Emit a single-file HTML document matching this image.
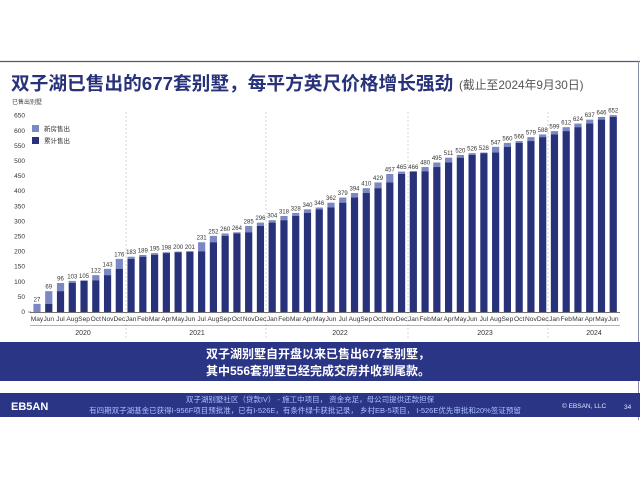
<!DOCTYPE html>
<html><head><meta charset="utf-8"><style>
html,body{margin:0;padding:0;background:#fff;}
body{width:640px;height:480px;overflow:hidden;position:relative;font-family:"Liberation Sans","Noto Sans CJK SC",sans-serif;}
</style></head><body>
<svg id="s" width="640" height="480" xmlns="http://www.w3.org/2000/svg" style="position:absolute;left:0;top:0;font-family:'Liberation Sans','Noto Sans CJK SC',sans-serif">
<rect x="0" y="0" width="640" height="480" fill="#fff"/>
<line x1="0" y1="61.5" x2="640" y2="61.5" stroke="#555a70" stroke-width="1.2"/>
<line x1="638.5" y1="61" x2="638.5" y2="420" stroke="#8a8fa8" stroke-width="1"/>
<text x="11" y="90" font-size="18.7" font-weight="bold" fill="#27327a">双子湖已售出的677套别墅，每平方英尺价格增长强劲</text>
<text x="459" y="89" font-size="11.8" fill="#555">(截止至2024年9月30日)</text>
<text x="12" y="104" font-size="6" fill="#444">已售出别墅</text>
<g id="chart"></g>
<rect x="32" y="125" width="7" height="7" fill="#7c88c4"/>
<text x="44" y="131" font-size="6.5" fill="#333">新房售出</text>
<rect x="32" y="137" width="7" height="7" fill="#27327a"/>
<text x="44" y="143" font-size="6.5" fill="#333">累计售出</text>
<rect x="0" y="342" width="640" height="39" fill="#2b3585"/>
<text x="318" y="358" font-size="12" font-weight="bold" fill="#fff" text-anchor="middle">双子湖别墅自开盘以来已售出677套别墅，</text>
<text x="318" y="375" font-size="12" font-weight="bold" fill="#fff" text-anchor="middle">其中556套别墅已经完成交房并收到尾款。</text>
<rect x="0" y="393" width="640" height="24" fill="#2b3585"/>
<text x="11" y="410" font-size="11" font-weight="bold" fill="#fff">EB5AN</text>
<text x="310" y="402" font-size="7.5" fill="#a9c0ff" text-anchor="middle">双子湖别墅社区（贷款IV） - 施工中项目， 资金充足，母公司提供还款担保</text>
<text x="305" y="413" font-size="7.5" fill="#a9c0ff" text-anchor="middle">有四期双子湖基金已获得I-956F项目预批准，已有I-526E，有条件绿卡获批记录， 乡村EB-5项目， I-526E优先审批和20%签证预留</text>
<text x="562" y="408" font-size="6.5" fill="#dfe6ff">© EBSAN, LLC</text>
<text x="624" y="409" font-size="6.5" fill="#dfe6ff">34</text>
</svg>
<script>
var v=[27,69,96,103,105,122,143,176,183,189,195,198,200,201,231,252,260,264,285,296,304,318,328,340,346,362,379,394,410,429,457,465,466,480,495,511,520,526,528,547,560,566,579,588,599,612,624,637,646,652];
var m=["May","Jun","Jul","Aug","Sep","Oct","Nov","Dec"];
var all=["Jan","Feb","Mar","Apr","May","Jun","Jul","Aug","Sep","Oct","Nov","Dec"];
for(var y=0;y<3;y++)m=m.concat(all);m=m.concat(all.slice(0,6));
var y0=312,k=15.1/50,x0=37,dx=11.76,bw=7.2,h='';
for(var t=0;t<=650;t+=50){var yy=y0-t*k;h+='<text x="25" y="'+(yy+2)+'" font-size="6.5" fill="#333" text-anchor="end">'+t+'</text>';}
h+='<line x1="28" y1="'+y0+'" x2="31" y2="'+y0+'" stroke="#444" stroke-width="0.6"/>';
[126,266,408,548].forEach(function(x){h+='<line x1="'+x+'" y1="112" x2="'+x+'" y2="340" stroke="#bbb" stroke-width="0.6" stroke-dasharray="2,2"/>';});
for(var i=0;i<50;i++){var cx=x0+i*dx,p=i?v[i-1]:0;
h+='<rect x="'+(cx-bw/2)+'" y="'+(y0-v[i]*k)+'" width="'+bw+'" height="'+((v[i]-p)*k)+'" fill="#7c88c4"/>';
if(p)h+='<rect x="'+(cx-bw/2)+'" y="'+(y0-p*k)+'" width="'+bw+'" height="'+(p*k)+'" fill="#27327a"/>';
h+='<text x="'+cx+'" y="'+(y0-v[i]*k-2.5)+'" font-size="6" fill="#333" text-anchor="middle">'+v[i]+'</text>';
h+='<text x="'+cx+'" y="321" font-size="6.6" fill="#333" text-anchor="middle">'+m[i]+'</text>';}
h+='<line x1="30" y1="'+(y0+0.5)+'" x2="620" y2="'+(y0+0.5)+'" stroke="#444" stroke-width="0.8"/>';
h+='<line x1="30" y1="325.5" x2="620" y2="325.5" stroke="#666" stroke-width="0.6"/>';
[[83,'2020'],[197,'2021'],[340,'2022'],[485,'2023'],[594,'2024']].forEach(function(a){h+='<text x="'+a[0]+'" y="335" font-size="7" fill="#333" text-anchor="middle">'+a[1]+'</text>';});
document.getElementById('chart').innerHTML=h;
</script>
</body></html>
